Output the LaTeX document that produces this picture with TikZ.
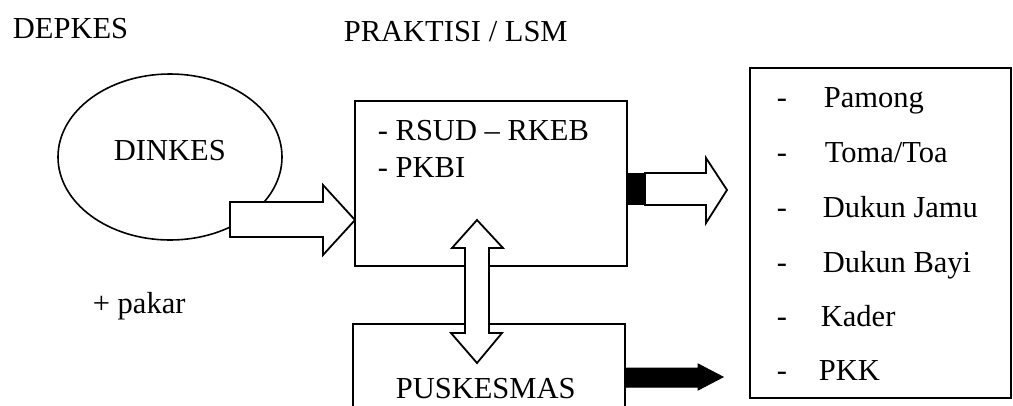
\documentclass[tikz,border=0pt]{standalone}
\usepackage{fontspec}
\setmainfont{Liberation Serif}
\usetikzlibrary{shapes.geometric}
\begin{document}
\begin{tikzpicture}[x=1pt,y=-1pt,line width=1.8pt,
  lbl/.style={anchor=base west,inner sep=0pt,font=\fontsize{30.5}{36}\selectfont},
  frame/.style={draw,line width=1.8pt,inner sep=0pt,outer sep=0pt,anchor=north west},
  hollow/.style={draw,fill=white,line width=1.8pt,line join=miter},
  solid/.style={draw,fill=black,line width=1pt,line join=miter}]
\useasboundingbox (0,0) rectangle (1013,405);
\clip (0,0) rectangle (1013,405);
\fill[white] (0,0) rectangle (1013,405);
% headings
\node[lbl] (depkes) at (12,38) {DEPKES};
\node[lbl] (praktisi) at (343,41) {PRAKTISI / LSM};
% DINKES ellipse
\node[draw,ellipse,line width=1.6pt,minimum width=224pt,minimum height=166pt,inner sep=0pt,outer sep=0pt] (dinkes) at (170,157) {};
\node[lbl] (dinkestxt) at (113,160) {DINKES};
\node[lbl] (pakar) at (92,313) {+ pakar};
% boxes
\node[frame,minimum width=272pt,minimum height=165pt] (rsud) at (355,101) {};
\node[lbl] (rsud1) at (377,140) {- RSUD – RKEB};
\node[lbl] (rsud2) at (377,177) {- PKBI};
\node[frame,minimum width=272pt,minimum height=120pt] (pusk) at (353,324) {};
\node[lbl] (pusktxt) at (395,398) {PUSKESMAS};
\node[frame,minimum width=261pt,minimum height=330pt] (list) at (750,68) {};
% list items
\node[lbl] (d1) at (776,107) {-};
\node[lbl] (l1) at (823,107) {Pamong};
\node[lbl] (d2) at (776,162) {-};
\node[lbl] (l2) at (824,162) {Toma/Toa};
\node[lbl] (d3) at (776,217) {-};
\node[lbl] (l3) at (822,217) {Dukun Jamu};
\node[lbl] (d4) at (776,272) {-};
\node[lbl] (l4) at (822,272) {Dukun Bayi};
\node[lbl] (d5) at (776,326) {-};
\node[lbl] (l5) at (820,326) {Kader};
\node[lbl] (d6) at (776,380) {-};
\node[lbl] (l6) at (818,380) {PKK};
% arrow DINKES -> RSUD
\draw[hollow] (230,202) -- (323,202) -- (323,185) -- (rsud.west |- 0,220) -- (323,255) -- (323,237) -- (230,237) -- cycle;
% arrow RSUD -> list
\draw[hollow] (645,173) -- (706,173) -- (706,158) -- (727,190) -- (706,223) -- (706,205) -- (645,205) -- cycle;
\fill[black] (rsud.east |- 0,173) rectangle (645,205);
% double arrow RSUD <-> PUSKESMAS
\draw[hollow] (465,248) -- (452,248) -- (477,220) -- (503,248) -- (489,248) -- (489,333) -- (502,333) -- (477,363) -- (451,333) -- (465,333) -- cycle;
% black arrow PUSKESMAS -> list
\draw[solid] (pusk.east |- 0,368) -- (698,368) -- (698,364) -- (723,377) -- (698,390) -- (698,387) -- (pusk.east |- 0,387) -- cycle;
\end{tikzpicture}
\end{document}
